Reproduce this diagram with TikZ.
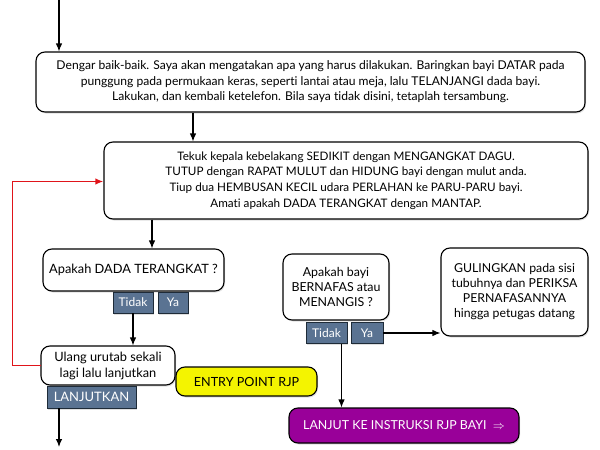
\documentclass[tikz,border=0pt]{standalone}
\usepackage{fontspec}
\setmainfont[Ligatures=NoCommon]{Lato}
\usetikzlibrary{arrows,arrows.meta,shapes,shadows}
\definecolor{knopblue}{HTML}{5A7392}
\definecolor{knopline}{HTML}{1E2B38}
\definecolor{entryyellow}{HTML}{F4F400}
\definecolor{rjppurple}{HTML}{990099}
\definecolor{ulangred}{HTML}{E0141A}
\tikzstyle{stepbox}=[draw,line width=1.1pt,rounded corners=9pt,fill=white,align=center,inner sep=0pt,drop shadow={opacity=0.25,shadow xshift=1pt,shadow yshift=-1.5pt}]
\tikzstyle{knop}=[draw=knopline,line width=0.9pt,fill=knopblue,text=white,inner sep=0pt,drop shadow={opacity=0.25,shadow xshift=1pt,shadow yshift=-1.5pt}]
\tikzstyle{edge}=[draw,line width=1.1pt,-{Latex[length=8pt,width=6.5pt]}]
\tikzstyle{loopedge}=[draw,line width=1.8pt,ulangred,line cap=rect,-{Latex[length=8pt,width=6.5pt]}]

\begin{document}
\begin{tikzpicture}[x=1pt,y=-1pt]

    \useasboundingbox (0,0) rectangle (600,450);

    % boxes
    \node[stepbox, minimum width=549, minimum height=60, font=\fontsize{12.1}{15.5}\selectfont] (dengar) at (310.5,82)
        {Dengar baik-baik. Saya akan mengatakan apa yang harus dilakukan. Baringkan bayi DATAR pada\\
         punggung pada permukaan keras, seperti lantai atau meja, lalu TELANJANGI dada bayi.\\
         Lakukan, dan kembali ketelefon. Bila saya tidak disini, tetaplah tersambung.};
    \node[stepbox, minimum width=484, minimum height=77, font=\fontsize{11.7}{15.7}\selectfont] (tekuk) at (346,180.5)
        {Tekuk kepala kebelakang SEDIKIT dengan MENGANGKAT DAGU.\\
         TUTUP dengan RAPAT MULUT dan HIDUNG bayi dengan mulut anda.\\
         Tiup dua HEMBUSAN KECIL udara PERLAHAN ke PARU-PARU bayi.\\
         Amati apakah DADA TERANGKAT dengan MANTAP.};
    \node[stepbox, minimum width=181, minimum height=42, font=\fontsize{12.8}{15}\selectfont] (dada) at (133.5,270)
        {Apakah DADA TERANGKAT ?};
    \node[stepbox, minimum width=134, minimum height=39, font=\fontsize{12.8}{16}\selectfont] (ulang) at (108,365.5)
        {Ulang urutab sekali\\ lagi lalu lanjutkan};
    \node[stepbox, minimum width=106, minimum height=66, font=\fontsize{12.4}{15}\selectfont] (nafas) at (336,287)
        {Apakah bayi\\ BERNAFAS atau\\ MENANGIS ?};
    \node[stepbox, minimum width=147, minimum height=88, font=\fontsize{12.3}{15}\selectfont] (guling) at (514.5,292)
        {GULINGKAN pada sisi\\ tubuhnya dan PERIKSA\\ PERNAFASANNYA\\ hingga petugas datang};
    \node[stepbox, fill=entryyellow, minimum width=141, minimum height=29, font=\fontsize{12.6}{13}\selectfont] (entry) at (246.5,381.5)
        {ENTRY POINT RJP};
    \node[stepbox, fill=rjppurple, text=white, minimum width=230, minimum height=35, font=\fontsize{12.4}{13}\selectfont] (lanjut) at (404,425.5)
        {LANJUT KE INSTRUKSI RJP BAYI \ $\Rightarrow$};

    % buttons
    \foreach \x/\y/\w/\name/\teks in {133/302.5/40/tidakA/Tidak, 173/302.5/30/yaA/Ya, 326.5/333/41/tidakB/Tidak, 367/333/32/yaB/Ya}
        \node[knop, minimum width=\w, minimum height=21, font=\fontsize{12}{13}\selectfont] (\name) at (\x,\y) {\teks};
    \node[knop, minimum width=89, minimum height=22, font=\fontsize{13}{14}\selectfont] (lanjutkan) at (91.5,397) {LANJUTKAN};

    % arrows
    \coordinate (atas) at (59,0);
    \coordinate (bawah) at (59,447);
    \path[edge] (atas) -- (atas |- dengar.north);
    \path[edge] (dengar.south -| 193,0) -- (tekuk.north -| 193,0);
    \path[edge] (tekuk.south -| 152,0) -- (dada.north -| 152,0);
    \path[edge] (tidakA.south) -- (tidakA.south |- ulang.north);
    \path[edge] (lanjutkan.south -| bawah) -- (bawah);
    \path[edge] ([xshift=15]tidakB.south) -- ([xshift=15]tidakB.south |- lanjut.north);
    \path[edge] (yaB.east) -- (yaB.east -| guling.west);
    \path[loopedge] (ulang.west) -- ++(-28,0) |- ([yshift=-1]tekuk.west);

\end{tikzpicture}
\end{document}
